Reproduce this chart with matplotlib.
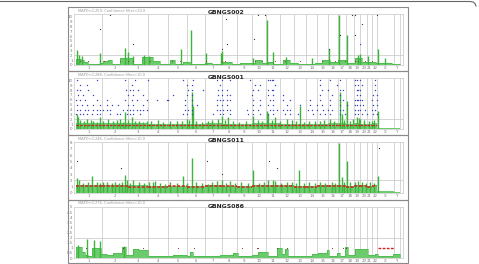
import numpy as np
import matplotlib.pyplot as plt
from matplotlib.lines import Line2D
from matplotlib.patches import Rectangle

W, H = 479, 264

# genome layout (Mb)
chrom_names = [str(i) for i in range(1, 23)] + ['X', 'Y']
chrom_len = [249, 243, 198, 191, 181, 171, 159, 146, 141, 136, 135, 134,
             115, 107, 103, 90, 81, 78, 59, 63, 48, 51, 155, 59]

sample_names = ['GBNGS002', 'GBNGS001', 'GBNGS011', 'GBNGS086']
subtitles = ['MAPD=0.259, Confidence filter=10.0', 'MAPD=0.288, Confidence filter=10.0',
             'MAPD=0.246, Confidence filter=10.0', 'MAPD=0.276, Confidence filter=10.0']
y_max = [10.6, 10.5, 8.1, 5.0]
y_step = [1, 1, 1, 0.5]

# ---- panel 1 : GBNGS002 ----
p1_edges = [0, 48, 76, 115, 229, 258, 306, 344, 420, 544, 630, 735, 802, 898, 945, 1022,
            1089, 1232, 1299, 1394, 1490, 1566, 1709, 1776, 1834, 1881, 1977, 2044, 2120,
            2187, 2282, 2349, 2426, 2502, 2588, 2664, 2731, 2865, 2951, 3018, 3094]
p1_level = [1.2, 1.0, 0.6, 0.2, 0.4, 0.8, 1.0, 0.3, 1.4, 0.3, 1.6, 0.8, 0.2, 1.0, 0.2,
            0.7, 0.3, 0.5, 0.2, 0.7, 0.2, 0.5, 1.0, 0.5, 0.7, 0.3, 1.0, 0.5, 0.2, 0.3,
            0.5, 1.0, 0.7, 1.0, 0.5, 1.4, 0.7, 0.5, 0.5, 0.2]
p1_spike_pos = [10, 30, 60, 229, 468, 497, 540, 650, 700, 1003, 1098, 1242, 1385, 1394,
                1690, 1824, 1881, 2010, 2250, 2416, 2512, 2588, 2690, 2710, 2789, 2884, 2950]
p1_spike_val = [3.1, 2.0, 1.8, 2.4, 3.6, 2.8, 1.9, 2.0, 1.9, 3.3, 7.3, 2.4, 2.4, 3.0,
                1.5, 9.4, 2.8, 1.6, 1.5, 3.3, 10.4, 6.3, 2.0, 2.2, 1.8, 3.3, 1.4]
p1_dot_pos = [325, 229, 544, 1432, 1442, 1394, 1738, 1805, 1700, 2416, 2521, 2636,
              2664, 2731, 2664, 2875]
p1_dot_val = [10.4, 7.5, 4.4, 9.6, 4.4, 3.3, 10.4, 10.4, 5.4, 3.3, 6.3, 10.4,
              10.4, 8.5, 6.3, 10.4]
p1_low_pos = [38, 115, 229, 267, 420, 497, 544, 707, 917, 993, 1242, 1394, 1423, 1709,
              1776, 1900, 1996, 2139, 2349, 2473, 2569, 2664, 2693, 2760, 2827]

# ---- panel 2 : GBNGS001 ----
p2_base = [1.3, 1.2, 1.2, 1.0, 1.0, 1.1, 1.2, 1.0, 1.1, 1.2, 1.2, 1.1,
           1.0, 1.0, 1.1, 1.2, 1.2, 1.0, 1.3, 1.1, 1.0, 1.2, 0.3, 0.2]
p2_seg = [0.85] * 22 + [np.nan, np.nan]
p2_spike_pos = [6, 22, 40, 80, 107, 140, 165, 200, 229, 260, 309, 350, 390, 420, 450, 468,
                500, 531, 563, 600, 640, 675, 720, 780, 830, 900, 960, 1009, 1056, 1080,
                1104, 1120, 1150, 1200, 1260, 1300, 1359, 1391, 1420, 1454, 1500, 1560,
                1620, 1693, 1740, 1780, 1821, 1837, 1870, 1900, 1950, 2012, 2060, 2100,
                2139, 2180, 2230, 2280, 2330, 2370, 2425, 2460, 2521, 2537, 2560, 2585,
                2620, 2650, 2680, 2700, 2712, 2750, 2800, 2823, 2850, 2887]
p2_spike_val = [3.1, 2.4, 1.8, 1.6, 2.0, 1.9, 1.7, 1.5, 2.4, 1.7, 2.0, 1.6, 1.8, 2.0, 1.5,
                3.4, 1.9, 2.4, 1.7, 1.6, 1.5, 1.7, 1.6, 1.8, 1.5, 1.7, 1.6, 1.7, 2.0, 1.8,
                7.6, 4.8, 1.6, 1.5, 1.7, 1.9, 2.0, 2.7, 1.8, 2.4, 1.6, 1.5, 1.7, 2.7,
                1.8, 1.6, 3.7, 3.1, 1.9, 2.4, 1.7, 2.0, 1.8, 1.6, 4.8, 1.5, 1.7, 1.6,
                1.7, 1.8, 2.0, 1.6, 7.6, 3.0, 1.9, 5.8, 1.7, 2.1, 2.4, 2.3, 2.0, 1.8,
                1.6, 1.7, 1.9, 3.7]
p2_blue_lvl = ([10] * 22 + [9] * 15 + [8] * 26 + [7] * 24 + [6] * 37 + [5] * 35
               + [4] * 49 + [3] * 41)
p2_blue_pos = [
    # level 10
    12, 197, 468, 563, 690, 1025, 1120, 1343, 1391, 1470, 1661, 1837, 1852, 1868, 1884,
    2330, 2425, 2521, 2664, 2680, 2712, 2855,
    # level 9
    38, 102, 531, 1056, 1104, 1375, 1709, 1757, 1900, 2330, 2489, 2664, 2696, 2728, 2855,
    # level 8
    6, 38, 118, 477, 515, 547, 595, 1072, 1104, 1216, 1359, 1391, 1438,
    1693, 1741, 1837, 1868, 1884, 2346, 2409, 2521, 2553, 2680, 2696, 2712, 2855,
    # level 7
    22, 70, 165, 500, 547, 643, 929, 1056, 1104, 1359, 1391, 1438, 1470,
    1677, 1837, 1884, 1980, 2330, 2441, 2521, 2680, 2712, 2839, 2871,
    # level 6
    3, 38, 86, 197, 293, 468, 531, 579, 675, 770, 866, 881, 1041, 1104, 1343, 1375, 1407,
    1438, 1470, 1693, 1757, 1852, 1884, 1980, 2043, 2234, 2330, 2425, 2521, 2553, 2664,
    2680, 2696, 2712, 2728, 2823, 2871,
    # level 5
    12, 54, 102, 165, 229, 293, 340, 404, 500, 547, 643, 1041, 1104, 1152, 1343, 1391, 1438,
    1693, 1757, 1837, 1884, 2012, 2139, 2234, 2298, 2346, 2425, 2521, 2585, 2664, 2680,
    2712, 2744, 2839, 2871,
    # level 4
    6, 38, 86, 118, 165, 197, 229, 261, 293, 324, 452, 484, 515, 547, 579, 611, 643, 675,
    1041, 1072, 1104, 1343, 1375, 1407, 1438, 1470, 1630, 1693, 1741, 1852, 1884, 1916,
    1980, 2012, 2043, 2218, 2250, 2298, 2362, 2409, 2441, 2521, 2553, 2664, 2696, 2712,
    2760, 2823, 2855,
    # level 3
    0, 38, 70, 102, 149, 197, 229, 324, 388, 420, 484, 515, 547, 611, 1025, 1056, 1104,
    1311, 1375, 1407, 1470, 1646, 1693, 1757, 1837, 1884, 1996, 2043, 2123, 2266, 2330,
    2378, 2425, 2521, 2569, 2664, 2696, 2728, 2776, 2839, 2871]

# ---- panel 3 : GBNGS011 ----
p3_base = [1.3, 1.2, 1.2, 1.1, 1.1, 1.1, 1.2, 1.1, 1.1, 1.2, 1.2, 1.2,
           1.1, 1.1, 1.2, 1.2, 1.3, 1.1, 1.3, 1.2, 1.1, 1.2, 0.3, 0.2]
p3_seg = [1.1, 1.05, 1.0, 1.0, 1.05, 1.0, 1.1, 1.05, 1.0, 1.1, 1.1, 1.05,
          1.0, 1.0, 1.05, 1.1, 1.1, 1.0, 1.1, 1.05, 1.0, 1.1, np.nan, np.nan]
p3_spike_pos = [12, 30, 70, 110, 149, 197, 230, 261, 300, 340, 372, 410, 440, 468, 484,
                520, 547, 600, 650, 700, 738, 754, 800, 850, 900, 960, 1025, 1060, 1104,
                1150, 1200, 1260, 1300, 1343, 1391, 1430, 1470, 1520, 1580, 1640, 1693,
                1750, 1800, 1837, 1884, 1900, 1960, 2012, 2060, 2100, 2132, 2180, 2230,
                2280, 2330, 2380, 2441, 2470, 2515, 2537, 2560, 2585, 2620, 2664, 2696,
                2730, 2770, 2810, 2850, 2887]
p3_spike_val = [2.4, 2.1, 1.6, 1.7, 2.7, 1.8, 1.6, 1.8, 1.7, 1.6, 1.7, 1.6, 1.8, 2.9,
                2.1, 1.6, 2.1, 1.7, 1.6, 1.7, 1.7, 1.9, 1.6, 1.5, 1.7, 1.6, 2.7, 1.6,
                5.6, 1.7, 1.6, 1.5, 1.7, 1.9, 2.1, 1.6, 1.9, 1.6, 1.7, 1.6, 3.7, 1.6,
                1.7, 2.1, 2.1, 1.9, 1.6, 1.8, 1.7, 1.6, 3.7, 1.6, 1.7, 1.6, 1.8, 1.6,
                1.7, 1.6, 8.0, 2.5, 1.8, 5.1, 1.7, 1.8, 1.9, 1.7, 1.6, 1.7, 1.6, 2.7]
p3_dot_pos = [12, 426, 1247, 1391, 1846, 1922, 2896]
p3_dot_val = [5.1, 4.0, 5.1, 3.0, 5.1, 4.0, 7.1]

# ---- panel 4 : GBNGS086 ----
p4_edges = [0, 57, 86, 115, 153, 239, 296, 353, 439, 478, 544, 602, 688, 926, 1060, 1089,
            1117, 1375, 1499, 1547, 1681, 1738, 1834, 1920, 1967, 1996, 2025, 2254, 2311,
            2397, 2416, 2493, 2521, 2569, 2598, 2664, 2789, 2855, 2884, 3027, 3094]
p4_level = [1.1, 0.6, 0.3, 0.2, 1.0, 0.4, 0.3, 0.5, 1.1, 0.3, 0.9, 0.8, 0.15, 0.3, 0.15,
            0.6, 0.15, 0.25, 0.5, 0.15, 0.3, 0.6, 0.2, 1.0, 0.4, 0.9, 0.15, 0.35, 0.45,
            0.8, 0.15, 0.5, 0.15, 1.1, 0.3, 0.9, 0.3, 0.35, 0.2, 0.4]
p4_spike_pos = [20, 105, 172, 229, 460]
p4_spike_val = [1.3, 1.9, 1.8, 1.7, 1.2]
p4_dot_pos = [93, 452, 643, 977, 1127, 1582, 1726, 1741, 1916, 2012, 2442, 2547, 2578]
p4_seg_x = [2884, 3034]
p4_seg_val = 1.0

# ---------------------------------------------------------------
starts = np.concatenate([[0], np.cumsum(chrom_len)[:-1]])
ends = np.cumsum(chrom_len)
centers = starts + np.array(chrom_len) / 2

fill_c = '#6ccb6c'
edge_c = '#3db53d'
grid_c = '#c4c4c4'

fig = plt.figure(figsize=(W / 100, H / 100), dpi=100)


def fbox(x0, y0, x1, y1):
    return [x0 / W, 1 - y1 / H, (x1 - x0) / W, (y1 - y0) / H]


# outer frame line at the top
fig.add_artist(Line2D(np.array([0, 470, 473, 475, 476]) / W,
                      1 - np.array([1.5, 1.5, 2, 3.5, 6]) / H,
                      color='#666666', lw=0.8))

tops = [7, 71, 135, 200]
bots = [71, 135, 200, 263]

for k in range(4):
    T = tops[k]
    fig.add_artist(Rectangle((68 / W, 1 - bots[k] / H), 340 / W, (bots[k] - T) / H,
                             transform=fig.transFigure, fill=False,
                             ec='#8a8a8a', lw=0.8))
    fig.text(78 / W, 1 - (T + 3.5) / H, subtitles[k], fontsize=2.6,
             color='#9a9a9a', ha='left', va='center')
    fig.text(226 / W, 1 - (T + 6) / H, sample_names[k], fontsize=4.4,
             fontweight='bold', color='#222222', ha='center', va='center')

    ax = fig.add_axes(fbox(74, T + 7, 403, T + 58))
    ax.set_xlim(-19, 3123)
    ax.set_ylim(0, y_max[k])
    for s in ax.spines.values():
        s.set_color('#d0d0d0')
        s.set_linewidth(0.6)
    ax.vlines(ends, 0, y_max[k], colors=grid_c, lw=0.5, zorder=1)
    ax.axhline(2, color=grid_c, lw=0.5, zorder=1)

    ax.set_xticks(centers)
    ax.set_xticklabels(chrom_names)
    yt = np.arange(0, y_max[k] + 0.01, y_step[k])
    ax.set_yticks(yt)
    ax.set_yticklabels(['%g' % v for v in yt])
    ax.tick_params(length=0, labelsize=2.8, labelcolor='#777777', pad=1)

    if k == 0:
        ax.stairs(p1_level, p1_edges, fill=True, color=fill_c, zorder=2)
        ax.stairs(p1_level, p1_edges, color=edge_c, lw=0.4, zorder=2)
        ax.vlines(p1_spike_pos, 0, p1_spike_val, colors=edge_c, lw=1.0, zorder=3)
        ax.scatter(p1_dot_pos, p1_dot_val, s=0.8, c='#333333', lw=0, zorder=4)
        ax.scatter([2712], [4.4], s=0.8, c='#3344bb', lw=0, zorder=4)
        ax.scatter(p1_low_pos, [0.9] * len(p1_low_pos), s=0.6, c='#a03030',
                   lw=0, zorder=4)
    elif k == 1:
        ax.stairs(p2_base, np.concatenate([[0], ends]), fill=True, color=fill_c, zorder=2)
        ax.vlines(p2_spike_pos, 0, p2_spike_val, colors=edge_c, lw=1.0, zorder=3)
        ax.hlines(p2_seg, starts, ends, colors='#cc2222', lw=0.9,
                  linestyles=(0, (2, 1)), zorder=4)
        ax.scatter(p2_blue_pos, p2_blue_lvl, s=1.0, c='#3344bb', lw=0, zorder=4)
    elif k == 2:
        ax.stairs(p3_base, np.concatenate([[0], ends]), fill=True, color=fill_c, zorder=2)
        ax.vlines(p3_spike_pos, 0, p3_spike_val, colors=edge_c, lw=1.0, zorder=3)
        ax.hlines(p3_seg, starts, ends, colors='#d42020', lw=1.1,
                  linestyles=(0, (2, 1)), zorder=4)
        ax.scatter(p3_dot_pos, p3_dot_val, s=0.8, c='#333333', lw=0, zorder=4)
    else:
        ax.stairs(p4_level, p4_edges, fill=True, color=fill_c, zorder=2)
        ax.stairs(p4_level, p4_edges, color=edge_c, lw=0.4, zorder=2)
        ax.vlines(p4_spike_pos, 0, p4_spike_val, colors=edge_c, lw=1.0, zorder=3)
        ax.scatter(p4_dot_pos, [1.0] * len(p4_dot_pos), s=0.6, c='#6b2a2a',
                   lw=0, zorder=4)
        ax.hlines(p4_seg_val, p4_seg_x[0], p4_seg_x[1], colors='#cc2222', lw=1.0,
                  linestyles=(0, (2, 1)), zorder=4)

fig.savefig('out.png', dpi=100)
